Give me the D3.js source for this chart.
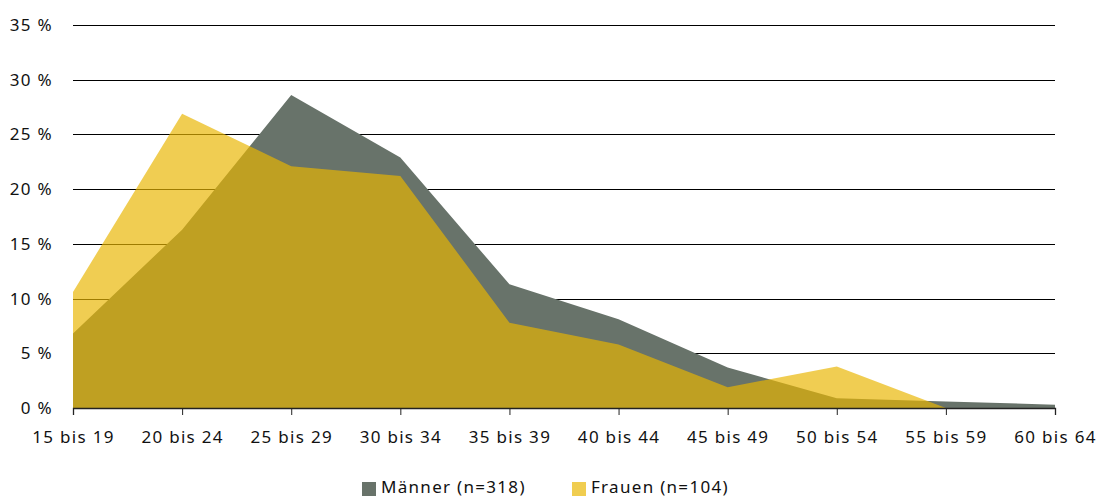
<!DOCTYPE html>
<html><head><meta charset="utf-8">
<script src="https://cdn.jsdelivr.net/npm/d3@7"></script>
<style>body{margin:0;background:#fff}text{font-family:"Noto Sans",sans-serif;fill:#111}</style>
</head><body><svg id="c" width="1103" height="497"></svg>
<script>
const categories = ["15 bis 19","20 bis 24","25 bis 29","30 bis 34","35 bis 39","40 bis 44","45 bis 49","50 bis 54","55 bis 59","60 bis 64"];
const maenner = [6.8,16.3,28.6,22.9,11.3,8.1,3.7,0.9,0.6,0.3];
const frauen = [10.6,26.9,22.1,21.2,7.8,5.8,1.9,3.8,0,0];
const yTicks = [0,5,10,15,20,25,30,35];
const seriesNames = ["Männer (n=318)","Frauen (n=104)"];

const FS = 17, LS = "1.3px";
const svg = d3.select("#c");
const x = d3.scalePoint().domain(categories).range([73,1055]);
const y = d3.scaleLinear().domain([0,35]).range([408,25]);

// grid
svg.append("g").selectAll("line").data(yTicks.filter(d=>d>0)).join("line")
  .attr("x1",73).attr("x2",1055).attr("y1",d=>Math.round(y(d))+0.5).attr("y2",d=>Math.round(y(d))+0.5)
  .attr("stroke","#000").attr("stroke-width",1);

const area = vals => d3.area().x((d,i)=>x(categories[i])).y0(y(0)).y1(d=>y(d))(vals);
svg.append("path").attr("d",area(maenner)).attr("fill","#68736a");
svg.append("path").attr("d",area(frauen)).attr("fill","#e9b600").attr("fill-opacity",0.68);

// x axis
const xa = svg.append("g").attr("transform","translate(0,408)")
  .call(d3.axisBottom(x).tickSize(7).tickPadding(0));
xa.select(".domain").attr("stroke","#222").attr("stroke-width",1.3);
xa.selectAll(".tick line").attr("stroke","#222");
xa.selectAll("text").attr("dy",null).attr("y",35).attr("font-size",FS).attr("letter-spacing",LS)
  .attr("font-family","Noto Sans").attr("fill","#111");

// y labels
svg.append("g").selectAll("text").data(yTicks).join("text")
  .attr("x",53).attr("y",d=>y(d)+6).attr("text-anchor","end").attr("font-size",FS).attr("letter-spacing",LS)
  .text(d=>d+" %");

// legend
const cols = ["#68736a","#f0cd50"];
const lx = [362,572];
const lg = svg.append("g");
seriesNames.forEach((n,i)=>{
  lg.append("rect").attr("x",lx[i]).attr("y",482).attr("width",14).attr("height",14).attr("fill",cols[i]);
  lg.append("text").attr("x",lx[i]+19).attr("y",493).attr("font-size",FS).attr("letter-spacing",LS).text(n);
});
</script></body></html>
